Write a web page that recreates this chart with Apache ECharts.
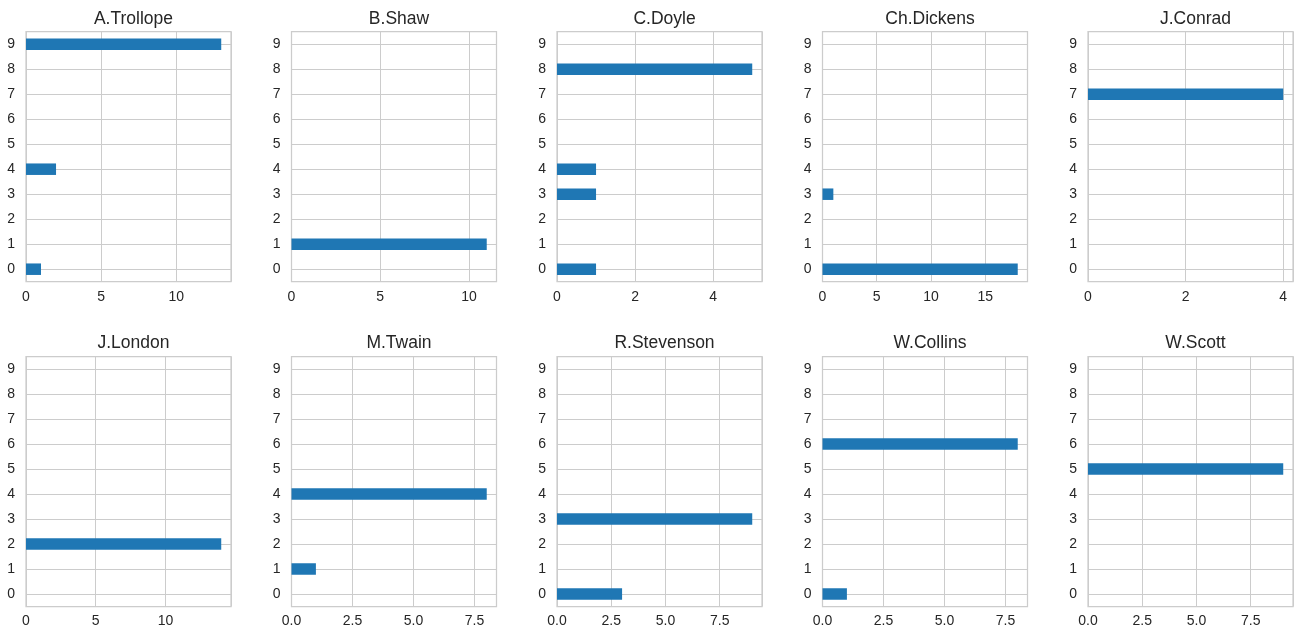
<!DOCTYPE html>
<html>
<head>
<meta charset="utf-8">
<script src="https://cdn.jsdelivr.net/npm/echarts@6/dist/echarts.min.js"></script>
<style>
  html, body { margin: 0; padding: 0; background: #ffffff; }
  #chart { width: 1296px; height: 635px; }
</style>
</head>
<body>
<div id="chart"></div>
<script>
// Category labels shared by every panel (y axis)
const categories = ['0', '1', '2', '3', '4', '5', '6', '7', '8', '9'];

// Authors, one panel each
const authors = ['A.Trollope', 'B.Shaw', 'C.Doyle', 'Ch.Dickens', 'J.Conrad',
                 'J.London', 'M.Twain', 'R.Stevenson', 'W.Collins', 'W.Scott'];

// Counts per category (index 0..9) for each author
const trollope  = [1, 0, 0, 0, 2, 0, 0, 0, 0, 13];
const shaw      = [0, 11, 0, 0, 0, 0, 0, 0, 0, 0];
const doyle     = [1, 0, 0, 1, 1, 0, 0, 0, 5, 0];
const dickens   = [18, 0, 0, 1, 0, 0, 0, 0, 0, 0];
const conrad    = [0, 0, 0, 0, 0, 0, 0, 4, 0, 0];
const london    = [0, 0, 14, 0, 0, 0, 0, 0, 0, 0];
const twain     = [0, 1, 0, 0, 8, 0, 0, 0, 0, 0];
const stevenson = [3, 0, 0, 9, 0, 0, 0, 0, 0, 0];
const collins   = [1, 0, 0, 0, 0, 0, 8, 0, 0, 0];
const scott     = [0, 0, 0, 0, 0, 9, 0, 0, 0, 0];

const seriesValues = [trollope, shaw, doyle, dickens, conrad,
                      london, twain, stevenson, collins, scott];

// Step between x tick labels for each panel
const xTickSteps = [5, 5, 2, 5, 2, 5, 2.5, 2.5, 2.5, 2.5];

const BAR_COLOR = '#1f77b4';
const GRID_COLOR = '#cccccc';
const TEXT_COLOR = '#262626';
const FONT = '"Liberation Sans", Arial, sans-serif';

const cols = 5;
const panelLeft0 = 26, panelStep = 265.5, panelWidth = 205;
const rowTops = [31.7, 356.5], panelHeight = 250;

const titles = [], grids = [], xAxes = [], yAxes = [], series = [];

authors.forEach((name, i) => {
  const col = i % cols, row = Math.floor(i / cols);
  const left = panelLeft0 + col * panelStep;
  const top = rowTops[row];
  const values = seriesValues[i];
  const maxVal = Math.max.apply(null, values);
  const step = xTickSteps[i];
  const decimals = step % 1 === 0 ? 0 : 1;

  titles.push({
    text: name,
    left: left + panelWidth / 2,
    top: top - 27,
    textAlign: 'center',
    textStyle: { fontFamily: FONT, fontSize: 17.5, fontWeight: 'normal', color: TEXT_COLOR }
  });

  grids.push({
    left: left, top: top, width: panelWidth, height: panelHeight,
    show: true, borderColor: GRID_COLOR, borderWidth: 1.25, backgroundColor: 'transparent',
    containLabel: false
  });

  xAxes.push({
    type: 'value', gridIndex: i,
    min: 0, max: maxVal * 1.05, interval: step,
    axisLine: { show: false }, axisTick: { show: false },
    splitLine: { show: true, lineStyle: { color: GRID_COLOR, width: 1 } },
    axisLabel: {
      show: true, showMaxLabel: false, margin: 8,
      fontFamily: FONT, fontSize: 14, color: TEXT_COLOR,
      formatter: v => Number(v).toFixed(decimals)
    }
  });

  yAxes.push({
    type: 'category', gridIndex: i, data: categories, boundaryGap: true,
    axisLine: { show: false }, axisTick: { show: false },
    splitLine: { show: true, alignWithLabel: true, lineStyle: { color: GRID_COLOR, width: 1 } },
    axisLabel: { margin: 11, fontFamily: FONT, fontSize: 14, color: TEXT_COLOR }
  });

  series.push({
    type: 'bar', xAxisIndex: i, yAxisIndex: i,
    data: values.map(v => (v === 0 ? '-' : v)),
    barWidth: '46%',
    itemStyle: { color: BAR_COLOR },
    silent: true,
    animation: false
  });
});

const chart = echarts.init(document.getElementById('chart'), null, { renderer: 'canvas' });
chart.setOption({
  backgroundColor: '#ffffff',
  animation: false,
  title: titles,
  grid: grids,
  xAxis: xAxes,
  yAxis: yAxes,
  series: series
});
</script>
</body>
</html>
